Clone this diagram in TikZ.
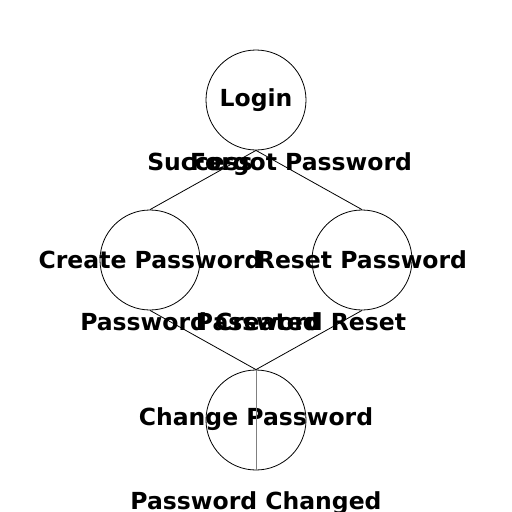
\documentclass[tikz,border=0pt]{standalone}
\usepackage{fontspec}
\setmainfont{DejaVu Sans}
\usepackage{tikz}
\definecolor{EdgeGray}{RGB}{128,128,128}

\tikzset{
  state/.style={draw=black,circle,line width=0.8pt,minimum size=100pt,inner sep=0pt},
  statetext/.style={font=\bfseries\fontsize{23.5}{28}\selectfont},
  edgetext/.style={font=\bfseries\fontsize{23.5}{28}\selectfont,midway,anchor=base,yshift=9.5pt}
}

\begin{document}
\begin{tikzpicture}[x=1pt,y=1pt]
    \useasboundingbox (0,0) rectangle (512,-512);
    % states
    \node[state,label={[statetext]center:Login}] (login) at (256,-100) {};
    \node[state,label={[statetext]center:Create Password}] (create) at (150,-260) {};
    \node[state,label={[statetext]center:Reset Password}] (reset) at (362,-260) {};
    \node[state,label={[statetext,yshift=1pt]center:Change Password}] (change) at (256,-420) {};
    % transitions
    \draw[line width=0.8pt] (login.south) -- (create.north) node[edgetext,xshift=-3pt]{Success};
    \draw[line width=0.8pt] (login.south) -- (reset.north) node[edgetext,xshift=-8pt]{Forgot Password};
    \draw[line width=0.8pt] (create.south) -- (change.north) node[edgetext,xshift=-3pt]{Password Created};
    \draw[line width=0.8pt] (reset.south) -- (change.north) node[edgetext,xshift=-8pt]{Password Reset};
    \draw[EdgeGray,line width=1pt] (change.north) -- (change.south);
    \node[statetext,anchor=base] (changed) at (256,-509) {Password Changed};
  \end{tikzpicture}
\end{document}
